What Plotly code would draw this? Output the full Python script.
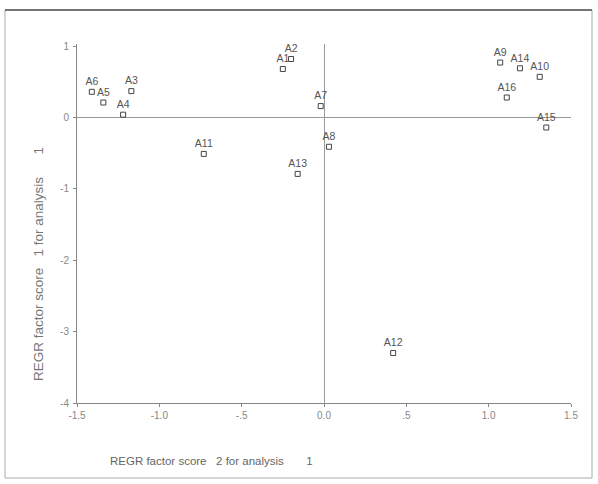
import plotly.graph_objects as go

labels = ["A1", "A2", "A3", "A4", "A5", "A6", "A7", "A8", "A9", "A10",
          "A11", "A12", "A13", "A14", "A15", "A16"]
score2 = [-0.25, -0.20, -1.17, -1.22, -1.34, -1.41, -0.02, 0.03, 1.07, 1.31,
          -0.73, 0.42, -0.16, 1.19, 1.35, 1.11]
score1 = [0.68, 0.82, 0.37, 0.04, 0.21, 0.36, 0.16, -0.41, 0.77, 0.57,
          -0.51, -3.30, -0.79, 0.69, -0.14, 0.28]

x_tickvals = [-1.5, -1.0, -0.5, 0.0, 0.5, 1.0, 1.5]
x_ticktext = ["-1.5", "-1.0", "-.5", "0.0", ".5", "1.0", "1.5"]
y_tickvals = [1, 0, -1, -2, -3, -4]
y_ticktext = ["1", "0", "-1", "-2", "-3", "-4"]

NB = "\u00a0"
x_title = "REGR factor score" + NB * 3 + "2 for analysis" + NB * 7 + "1"
y_title = "REGR factor score" + NB * 3 + "1 for analysis" + NB * 6 + "1"

FONT = "Liberation Sans, Arial, sans-serif"

fig = go.Figure()
fig.add_trace(go.Scatter(
    x=score2, y=score1, mode="markers+text", text=labels,
    textposition="top center",
    textfont=dict(family=FONT, size=10.5, color="#555"),
    marker=dict(symbol="square-open", size=5, color="#444",
                line=dict(width=1, color="#444")),
    cliponaxis=False, showlegend=False,
))

axis_common = dict(
    showgrid=False, showline=True, linecolor="#888", linewidth=1,
    ticks="outside", ticklen=3, tickcolor="#888",
    tickfont=dict(family=FONT, size=10, color="#888"),
    zeroline=True, zerolinecolor="#999", zerolinewidth=1,
)

fig.update_layout(
    width=598, height=484,
    margin=dict(l=77, r=27, t=44, b=81),
    paper_bgcolor="white", plot_bgcolor="white",
    xaxis=dict(range=[-1.5, 1.5], tickvals=x_tickvals, ticktext=x_ticktext,
               ticklabelstandoff=0, **axis_common),
    yaxis=dict(range=[-4, 1.03], tickvals=y_tickvals, ticktext=y_ticktext,
               ticklabelstandoff=2, **axis_common),
    annotations=[
        dict(text=x_title, xref="paper", yref="paper",
             x=(108 - 77) / 494, y=(403 - 461) / 359,
             xanchor="left", yanchor="middle", showarrow=False,
             font=dict(family=FONT, size=11.5, color="#666")),
        dict(text=y_title, xref="paper", yref="paper",
             x=(38 - 77) / 494, y=(403 - 264) / 359,
             xanchor="center", yanchor="middle", textangle=-90,
             showarrow=False,
             font=dict(family=FONT, size=13.5, color="#777")),
    ],
    shapes=[
        dict(type="rect", xref="paper", yref="paper",
             x0=(5 - 77) / 494, x1=(592 - 77) / 494,
             y0=(403 - 478) / 359, y1=(403 - 10) / 359,
             line=dict(color="#aaa", width=1)),
        dict(type="line", xref="paper", yref="paper",
             x0=(5 - 77) / 494, x1=(592 - 77) / 494,
             y0=(403 - 10) / 359, y1=(403 - 10) / 359,
             line=dict(color="#555", width=1.5)),
    ],
)

fig.write_html("out.html", config={"displayModeBar": False},
               post_script="document.body.style.margin='0';document.body.style.padding='0';")
